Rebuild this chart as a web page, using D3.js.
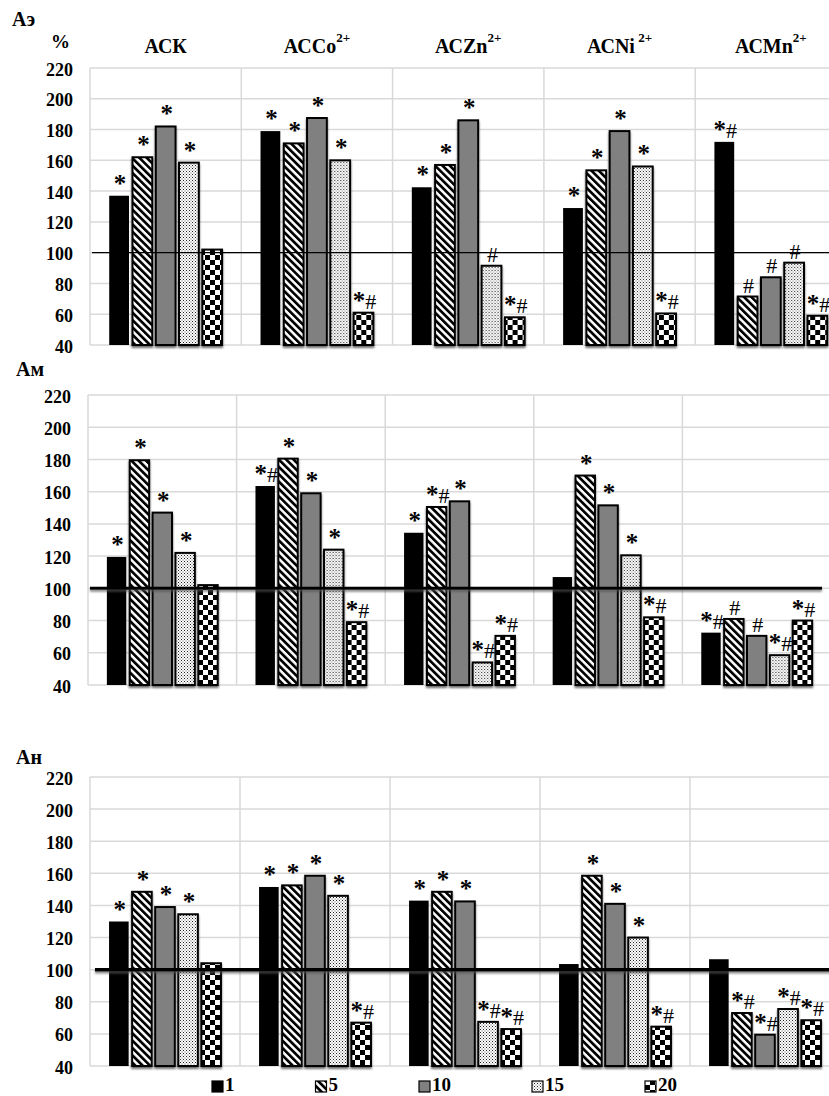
<!DOCTYPE html>
<html lang="ru">
<head>
<meta charset="utf-8">
<title>Аэ, Ам, Ан</title>
<script src="https://d3js.org/d3.v7.min.js"></script>
<style>
body { margin: 0; background: #fff; }
svg text { font-family: "Liberation Serif", "Times New Roman", serif; fill: #000; }
</style>
</head>
<body>
<div id="chart"></div>
<script>
// categories, series, ticks
var categories = ["АСК", "АСCo", "АСZn", "АСNi", "АСMn"];
var catSup = ["", "2+", "2+", " 2+", "2+"];
var series = ["1", "5", "10", "15", "20"];
var yTicks = [40, 60, 80, 100, 120, 140, 160, 180, 200, 220];
var refValue = 100;
var panelNames = ["Аэ", "Ам", "Ан"];

// values per category (rows) and series (columns), % of control
var aeValues = [
    [137, 162, 182, 158.5, 102],
    [179, 171, 187.5, 160, 61],
    [142.5, 157, 186, 91.5, 58],
    [129, 153.5, 179, 156, 60.5],
    [172, 71.5, 84, 93.5, 59]
];
var aeMarks = [
    ["*", "*", "*", "*", ""],
    ["*", "*", "*", "*", "*#"],
    ["*", "*", "*", "#", "*#"],
    ["*", "*", "*", "*", "*#"],
    ["*#", "#", "#", "#", "*#"]
];
var amValues = [
    [119.5, 179.5, 147, 122, 102],
    [163.5, 180.5, 159, 124, 79],
    [134.5, 150.5, 154, 54, 70.5],
    [107, 170, 151.5, 120.5, 82],
    [72.5, 81, 70.5, 58.5, 80]
];
var amMarks = [
    ["*", "*", "*", "*", ""],
    ["*#", "*", "*", "*", "*#"],
    ["*", "*#", "*", "*#", "*#"],
    ["", "*", "*", "*", "*#"],
    ["*#", "#", "#", "*#", "*#"]
];
var anValues = [
    [130, 148.5, 139, 134.5, 104],
    [151.5, 152.5, 158.5, 146, 67],
    [143, 148.5, 142.5, 67.5, 63],
    [103.5, 158.5, 141, 120, 64.5],
    [106.5, 73, 59.5, 75.5, 68.5]
];
var anMarks = [
    ["*", "*", "*", "*", ""],
    ["*", "*", "*", "*", "*#"],
    ["*", "*", "*", "*#", "*#"],
    ["", "*", "*", "*", "*#"],
    ["", "*#", "*#", "*#", "*#"]
];

var width = 829, height = 1096;
var fills = ["#000", "url(#stripes)", "#808080", "url(#dots)", "url(#checker)"];

// layout of the three panels
var layout = [
    {values: aeValues, marks: aeMarks, top: 68, bottom: 345, left: 90, catW: 151.3,
     nameX: 12, nameY: 26, refW: 1.2, refX0: 92, refX1: 840, shadow: false},
    {values: amValues, marks: amMarks, top: 395, bottom: 685, left: 88, catW: 148.6,
     nameX: 16, nameY: 376, refW: 3, refX0: 90, refX1: 822, shadow: true},
    {values: anValues, marks: anMarks, top: 777, bottom: 1066, left: 90, catW: 150,
     nameX: 16, nameY: 764, refW: 3.5, refX0: 95, refX1: 840, shadow: true}
];

var svg = d3.select("#chart").append("svg")
    .attr("width", width).attr("height", height)
    .style("display", "block");
svg.append("rect").attr("width", width).attr("height", height).attr("fill", "#fff");

var defs = svg.append("defs");
var p = defs.append("pattern").attr("id", "stripes").attr("patternUnits", "userSpaceOnUse")
    .attr("width", 5.2).attr("height", 5.2).attr("patternTransform", "rotate(-45)");
p.append("rect").attr("width", 5.2).attr("height", 5.2).attr("fill", "#fff");
p.append("rect").attr("width", 2.7).attr("height", 5.2).attr("fill", "#000");

p = defs.append("pattern").attr("id", "dots").attr("patternUnits", "userSpaceOnUse")
    .attr("width", 3).attr("height", 3);
p.append("rect").attr("width", 3).attr("height", 3).attr("fill", "#fff");
p.append("rect").attr("x", 0).attr("y", 0).attr("width", 1).attr("height", 1).attr("fill", "#222");
p.append("rect").attr("x", 1.5).attr("y", 1.5).attr("width", 1).attr("height", 1).attr("fill", "#555");

p = defs.append("pattern").attr("id", "checker").attr("patternUnits", "userSpaceOnUse")
    .attr("width", 10).attr("height", 10);
p.append("rect").attr("width", 10).attr("height", 10).attr("fill", "#fff");
p.append("rect").attr("width", 5).attr("height", 5).attr("fill", "#000");
p.append("rect").attr("x", 5).attr("y", 5).attr("width", 5).attr("height", 5).attr("fill", "#000");

defs.append("filter").attr("id", "shadow").attr("x", "-20%").attr("y", "-20%")
    .attr("width", "140%").attr("height", "140%")
  .append("feDropShadow").attr("dx", 0).attr("dy", 2).attr("stdDeviation", 0.8)
    .attr("flood-color", "#444").attr("flood-opacity", 0.8);

// line shadow needs a user-space region (a flat line has an empty bbox)
defs.append("filter").attr("id", "lineShadow").attr("filterUnits", "userSpaceOnUse")
    .attr("x", 0).attr("y", 0).attr("width", width).attr("height", height)
  .append("feDropShadow").attr("dx", 0).attr("dy", 2).attr("stdDeviation", 1.2)
    .attr("flood-color", "#555").attr("flood-opacity", 0.7);

layout.forEach(function (L, li) {
    var g = svg.append("g");
    var x0 = d3.scaleBand().domain(categories)
        .range([L.left, L.left + L.catW * categories.length]).padding(0);
    var bw = x0.bandwidth();
    var x1 = d3.scaleBand().domain(series)
        .range([0.127 * bw, 0.873 * bw]).paddingInner(0.15);
    var y = d3.scaleLinear().domain([40, 220]).range([L.bottom, L.top]);

    // grid
    g.append("g").selectAll("line").data(yTicks).join("line")
        .attr("x1", L.left).attr("x2", width + 20)
        .attr("y1", function (d) { return y(d); }).attr("y2", function (d) { return y(d); })
        .attr("stroke", "#d9d9d9").attr("stroke-width", 1.5);
    g.append("g").selectAll("line").data(categories).join("line")
        .attr("x1", function (d) { return x0(d); }).attr("x2", function (d) { return x0(d); })
        .attr("y1", L.top).attr("y2", L.bottom)
        .attr("stroke", "#d9d9d9").attr("stroke-width", 1.5);

    // y axis
    var ax = g.append("g").attr("transform", "translate(" + L.left + ",0)")
        .call(d3.axisLeft(y).tickValues(yTicks).tickSize(0).tickPadding(17));
    ax.select(".domain").remove();
    ax.selectAll("text").attr("dy", 7)
        .style("font-family", '"Liberation Serif", "Times New Roman", serif')
        .style("font-size", "18px").style("font-weight", "bold").attr("fill", "#000");

    // bars
    var groups = g.append("g").selectAll("g").data(categories).join("g")
        .attr("transform", function (d) { return "translate(" + x0(d) + ",0)"; });
    groups.selectAll("rect")
        .data(function (d, ci) {
            return series.map(function (s, si) {
                return {s: s, si: si, v: L.values[ci][si], m: L.marks[ci][si]};
            });
        })
        .join("rect")
        .attr("x", function (d) { return x1(d.s); })
        .attr("y", function (d) { return y(d.v); })
        .attr("width", x1.bandwidth())
        .attr("height", function (d) { return y(40) - y(d.v); })
        .attr("fill", function (d) { return fills[d.si]; })
        .attr("stroke", function (d) { return d.si === 0 ? "none" : "#000"; })
        .attr("stroke-width", 2)
        .attr("filter", function (d) { return d.si === 0 ? null : "url(#shadow)"; });

    // reference line at 100
    g.append("line")
        .attr("x1", L.refX0).attr("x2", L.refX1)
        .attr("y1", y(refValue)).attr("y2", y(refValue))
        .attr("stroke", "#000").attr("stroke-width", L.refW)
        .attr("filter", L.shadow ? "url(#lineShadow)" : null);

    // significance marks
    groups.selectAll("text.mark")
        .data(function (d, ci) {
            return series.map(function (s, si) {
                return {s: s, v: L.values[ci][si], m: L.marks[ci][si]};
            }).filter(function (d) { return d.m; });
        })
        .join("text").attr("class", "mark")
        .attr("x", function (d) { return x1(d.s) + x1.bandwidth() / 2 + 1; })
        .attr("y", function (d) { return y(d.v) - 4; })
        .attr("text-anchor", "middle")
        .selectAll("tspan").data(function (d) { return d.m.split(""); }).join("tspan")
        .attr("font-weight", function (c) { return c === "*" ? "bold" : "normal"; })
        .style("font-size", function (c) { return c === "*" ? "25px" : "22px"; })
        .text(function (c) { return c; });

    // panel name
    svg.append("text").attr("x", L.nameX).attr("y", L.nameY)
        .style("font-size", "20px").style("font-weight", "bold")
        .text(panelNames[li]);

    // category titles only over the first panel
    if (li === 0) {
        svg.append("text").attr("x", 51).attr("y", 48)
            .style("font-size", "19px").style("font-weight", "bold").text("%");
        categories.forEach(function (c, i) {
            var t = svg.append("text")
                .attr("x", x0(c) + bw / 2).attr("y", 53)
                .attr("text-anchor", "middle")
                .style("font-size", "20px").style("font-weight", "bold");
            t.append("tspan").text(c);
            if (catSup[i]) {
                t.append("tspan").attr("dy", -11).style("font-size", "13px").text(catSup[i]);
            }
        });
    }
});

// legend
var lx = 212;
series.forEach(function (s, i) {
    svg.append("rect").attr("x", lx).attr("y", 1081).attr("width", 11).attr("height", 11)
        .attr("fill", fills[i]).attr("stroke", "#000").attr("stroke-width", 1.2);
    var t = svg.append("text").attr("x", lx + 13).attr("y", 1091)
        .style("font-size", "19px").style("font-weight", "bold").text(s);
    lx += 13 + t.node().getComputedTextLength() + 81;
});
</script>
</body>
</html>
